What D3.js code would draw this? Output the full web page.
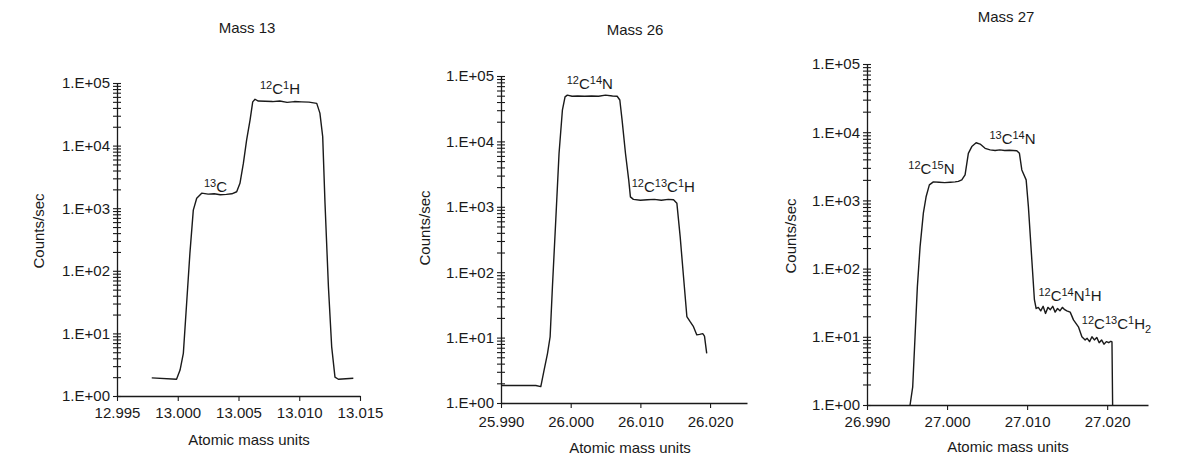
<!DOCTYPE html>
<html>
<head>
<meta charset="utf-8">
<script src="https://cdn.jsdelivr.net/npm/d3@7"></script>
<style>
  html, body { margin: 0; padding: 0; background: #fff; }
  svg { display: block; font-family: "Liberation Sans", Arial, Helvetica, sans-serif; }
</style>
</head>
<body>
<svg id="chart" width="1193" height="456"></svg>
<script>
// ---- Mass 13 scan ----
const mass13Amu = [12.99786, 12.9999, 13.00019, 13.00046, 13.00073, 13.001, 13.00128, 13.00156, 13.00197,
  13.0025, 13.0030, 13.0035, 13.0040, 13.00445, 13.00485, 13.00512, 13.0054, 13.00567, 13.00595, 13.00617,
  13.00636, 13.00663, 13.0072, 13.0078, 13.0084, 13.0090, 13.0096, 13.0102, 13.0108, 13.01144, 13.0117,
  13.01193, 13.01212, 13.0124, 13.01267, 13.01294, 13.01322, 13.01445];
const mass13Counts = [1.95, 1.85, 2.6, 4.8, 30, 190, 930, 1440, 1740,
  1680, 1700, 1640, 1660, 1700, 1830, 2500, 5200, 12300, 25600, 50000,
  55000, 51500, 51000, 50500, 51500, 49000, 50500, 50000, 49500, 47300, 33000,
  13900, 1200, 56, 6.1, 2.0, 1.85, 1.92];

// ---- Mass 26 scan ----
const mass26Amu = [25.9900, 25.9950, 25.99571, 25.99619, 25.99667, 25.99705, 25.99738, 25.99786, 25.99833,
  25.99881, 25.99919, 25.99952, 26.0002, 26.0010, 26.0020, 26.0030, 26.0040, 26.0050, 26.0060, 26.00667,
  26.00705, 26.00738, 26.00786, 26.00833, 26.00857, 26.0090, 26.0100, 26.0110, 26.0120, 26.0130, 26.0140,
  26.01476, 26.01524, 26.01571, 26.01619, 26.01667, 26.01714, 26.01762, 26.0181, 26.0185, 26.01895, 26.0192,
  26.01952];
const mass26Counts = [1.85, 1.85, 1.78, 3.2, 5.7, 10.3, 60, 630, 6600,
  30000, 48000, 51000, 49000, 49500, 49000, 49500, 49000, 51000, 49500, 49000,
  43000, 21000, 6600, 2560, 1420, 1300, 1260, 1280, 1300, 1260, 1300,
  1280, 1130, 350, 85, 21, 17.5, 14.7, 11, 11.2, 11.5, 10.5,
  5.75];

// ---- Mass 27 scan ----
const mass27Amu = [26.99538, 26.99571, 26.996, 26.99629, 26.99663, 26.99704, 26.99738, 26.99779, 26.99829,
  26.9990, 26.9997, 27.0004, 27.0010, 27.00141, 27.00184, 27.00225, 27.00266, 27.00309, 27.00363, 27.00413,
  27.00475, 27.00538, 27.0060, 27.0066, 27.0072, 27.0078, 27.00871, 27.00904, 27.00934, 27.00988, 27.01016,
  27.01059, 27.01091, 27.01113,
  27.0114, 27.0117, 27.0120, 27.0123, 27.0126, 27.0129, 27.0132, 27.0135, 27.0138, 27.0141, 27.0144, 27.0147,
  27.01496, 27.01538, 27.01579, 27.01641, 27.01684, 27.01725,
  27.0175, 27.0178, 27.0181, 27.0184, 27.0187, 27.0190, 27.0193, 27.0196, 27.0199, 27.0202, 27.02046, 27.0206,
  27.02068];
const mass27Counts = [1.0, 1.85, 10, 54, 210, 650, 1130, 1690, 1870,
  1850, 1820, 1850, 1870, 1900, 2000, 2360, 4900, 6150, 7000, 6700,
  5800, 5500, 5400, 5500, 5400, 5450, 5350, 4900, 2800, 2000, 810,
  134, 35, 26,
  27, 24, 28, 22, 27, 25, 28, 23, 26, 24, 27, 25,
  24, 23, 17.7, 14, 10, 9,
  9.5, 8.5, 10, 9, 9.8, 8.2, 9, 7.8, 8.5, 8.2, 8.6, 8.4,
  1.0];

// ---- Axis ticks ----
const mass13Ticks = [12.995, 13.000, 13.005, 13.010, 13.015];
const mass26Ticks = [25.990, 26.000, 26.010, 26.020];
const mass27Ticks = [26.990, 27.000, 27.010, 27.020];
const decadeValues = [1, 10, 100, 1000, 10000, 100000];
const decadeLabels = ["1.E+00", "1.E+01", "1.E+02", "1.E+03", "1.E+04", "1.E+05"];

// ---- Peak annotations: text pieces (0 normal, 1 superscript, -1 subscript) ----
const mass13Peaks = [
  { amu: 13.00216, counts: 1820,  parts: [["13", 1], ["C", 0]] },
  { amu: 13.00677, counts: 66000, parts: [["12", 1], ["C", 0], ["1", 1], ["H", 0]] }
];
const mass26Peaks = [
  { amu: 25.99943, counts: 63000, parts: [["12", 1], ["C", 0], ["14", 1], ["N", 0]] },
  { amu: 26.00876, counts: 1660,  parts: [["12", 1], ["C", 0], ["13", 1], ["C", 0], ["1", 1], ["H", 0]] }
];
const mass27Peaks = [
  { amu: 26.99516, counts: 2400, parts: [["12", 1], ["C", 0], ["15", 1], ["N", 0]] },
  { amu: 27.00529, counts: 6650, parts: [["13", 1], ["C", 0], ["14", 1], ["N", 0]] },
  { amu: 27.01141, counts: 33.5, parts: [["12", 1], ["C", 0], ["14", 1], ["N", 0], ["1", 1], ["H", 0]] },
  { amu: 27.01684, counts: 12.9, parts: [["12", 1], ["C", 0], ["13", 1], ["C", 0], ["1", 1], ["H", 0], ["2", -1]] }
];

const svg = d3.select("#chart");
const INK = "#1a1a1a";
const FONT = 15;

function drawPanel(p) {
  const g = svg.append("g");
  const x = d3.scaleLinear().domain(p.xDomain).range(p.xRange);
  const y = d3.scaleLog().domain([1, 1e5]).range(p.yRange);
  const yAxisX = p.xRange[0];
  const xAxisY = p.yRange[0];

  // log y axis: crossing ticks at every 1..9 x 10^k, labels on decades
  const yTickVals = [];
  for (let k = 0; k < 5; k++) for (let m = 1; m <= 9; m++) yTickVals.push(m * Math.pow(10, k));
  yTickVals.push(1e5);
  const yAxis = d3.axisLeft(y).tickValues(yTickVals).tickSizeInner(4).tickSizeOuter(0)
    .tickFormat(d => { const i = decadeValues.indexOf(d); return i >= 0 ? decadeLabels[i] : ""; });
  const ya = g.append("g").attr("transform", `translate(${yAxisX},0)`).call(yAxis);
  ya.select(".domain").attr("stroke", INK).attr("stroke-width", 1.3);
  ya.selectAll(".tick line").attr("x1", 4).attr("stroke", INK).attr("stroke-width", 1.1);
  ya.selectAll(".tick text").attr("x", -7).attr("fill", INK)
    .style("font-size", FONT + "px").style("font-family", "Liberation Sans, Arial, sans-serif");

  // x axis
  const xAxis = d3.axisBottom(x).tickValues(p.xTicks).tickFormat(d3.format(".3f"))
    .tickSizeInner(5).tickSizeOuter(0);
  const xa = g.append("g").attr("transform", `translate(0,${xAxisY})`).call(xAxis);
  xa.select(".domain").attr("stroke", INK).attr("stroke-width", 1.3);
  xa.selectAll(".tick line").attr("stroke", INK).attr("stroke-width", 1.1);
  xa.selectAll(".tick text").attr("y", p.tickBase).attr("dy", 0).attr("fill", INK)
    .style("font-size", FONT + "px").style("font-family", "Liberation Sans, Arial, sans-serif");

  // trace
  const pts = p.amu.map((a, i) => [a, p.counts[i]]);
  g.append("path").datum(pts)
    .attr("fill", "none").attr("stroke", INK).attr("stroke-width", 1.4)
    .attr("stroke-linejoin", "round")
    .attr("d", d3.line().x(d => x(d[0])).y(d => y(d[1])));

  // peak labels with isotope superscripts
  p.peaks.forEach(pk => {
    const t = g.append("text").attr("x", x(pk.amu)).attr("y", y(pk.counts))
      .attr("fill", INK).style("font-size", FONT + "px");
    let shift = 0;
    pk.parts.forEach(([s, kind]) => {
      const target = kind === 1 ? -5 : kind === -1 ? 4 : 0;
      t.append("tspan").attr("dy", target - shift)
        .style("font-size", (kind === 0 ? FONT : 11) + "px").text(s);
      shift = target;
    });
  });

  // titles
  g.append("text").attr("x", p.title[0]).attr("y", p.title[1]).attr("text-anchor", "middle")
    .attr("fill", INK).style("font-size", FONT + "px").text(p.titleText);
  g.append("text").attr("x", p.xTitle[0]).attr("y", p.xTitle[1]).attr("text-anchor", "middle")
    .attr("fill", INK).style("font-size", FONT + "px").text("Atomic mass units");
  g.append("text").attr("transform", `translate(${p.yTitle[0]},${p.yTitle[1]}) rotate(-90)`)
    .attr("text-anchor", "middle").attr("fill", INK).style("font-size", FONT + "px").text("Counts/sec");
}

drawPanel({
  titleText: "Mass 13", amu: mass13Amu, counts: mass13Counts, peaks: mass13Peaks, xTicks: mass13Ticks,
  xDomain: [12.995, 13.015], xRange: [117, 360], yRange: [396, 83], tickBase: 22,
  title: [247, 33], xTitle: [249, 445], yTitle: [44, 231]
});
drawPanel({
  titleText: "Mass 26", amu: mass26Amu, counts: mass26Counts, peaks: mass26Peaks, xTicks: mass26Ticks,
  xDomain: [25.990, 26.0253], xRange: [501, 747], yRange: [403, 76], tickBase: 24,
  title: [635, 35], xTitle: [630, 453], yTitle: [430, 228]
});
drawPanel({
  titleText: "Mass 27", amu: mass27Amu, counts: mass27Counts, peaks: mass27Peaks, xTicks: mass27Ticks,
  xDomain: [26.990, 27.0251], xRange: [867, 1148], yRange: [405, 64], tickBase: 22,
  title: [1006, 22], xTitle: [1008, 452], yTitle: [796, 236]
});
</script>
</body>
</html>
